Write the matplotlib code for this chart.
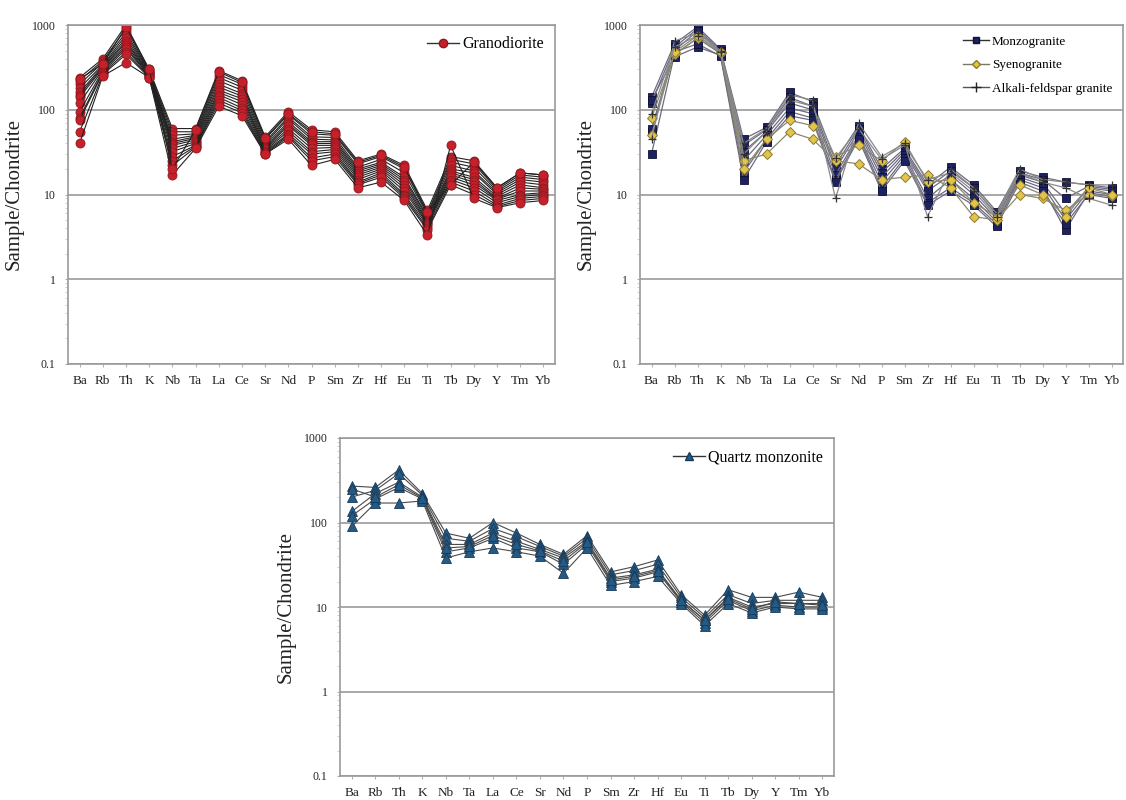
import matplotlib
matplotlib.use("Agg")
import matplotlib.pyplot as plt
from matplotlib.lines import Line2D

plt.rcParams['font.family'] = ['Liberation Serif', 'DejaVu Serif']

elements = ["Ba", "Rb", "Th", "K", "Nb", "Ta", "La", "Ce", "Sr", "Nd", "P",
            "Sm", "Zr", "Hf", "Eu", "Ti", "Tb", "Dy", "Y", "Tm", "Yb"]

# Chondrite-normalised concentrations, one list per sample
granodiorite = [
    [240, 400, 1000, 300, 60, 60, 290, 220, 48, 95, 58, 55, 25, 30, 22, 6.5, 28, 25, 12, 18, 17],
    [220, 380, 900, 290, 55, 55, 260, 200, 45, 88, 52, 50, 23, 28, 20, 6.0, 26, 23, 11.5, 17, 16],
    [200, 360, 820, 285, 50, 52, 240, 185, 42, 82, 48, 47, 21, 26, 18, 5.8, 24, 21, 11, 16, 15],
    [180, 340, 760, 280, 45, 50, 220, 170, 40, 78, 45, 44, 20, 24, 16, 5.5, 22, 19, 10.5, 15, 14],
    [160, 330, 700, 275, 42, 48, 200, 155, 38, 72, 42, 42, 19, 23, 15, 5.3, 20, 18, 10, 14, 13],
    [150, 320, 650, 270, 40, 46, 185, 145, 36, 68, 40, 40, 18, 22, 14, 5.0, 19, 16, 9.5, 13, 12],
    [140, 310, 620, 265, 38, 44, 170, 135, 35, 65, 38, 38, 17, 21, 13, 4.8, 18, 15, 9.0, 12, 11.5],
    [120, 300, 580, 260, 35, 42, 160, 125, 34, 60, 35, 36, 16, 20, 12, 4.6, 17, 14, 8.8, 11, 11],
    [95, 290, 550, 255, 32, 40, 150, 115, 33, 56, 32, 34, 15, 19, 11, 4.5, 16, 13, 8.5, 10, 10.5],
    [80, 280, 520, 250, 28, 38, 140, 105, 32, 52, 30, 32, 14, 18, 10, 4.3, 15, 12, 8.0, 9.5, 10],
    [75, 270, 480, 245, 25, 37, 130, 98, 31, 50, 27, 30, 13.5, 17, 9.5, 4.0, 14, 11, 7.5, 9, 9.5],
    [55, 260, 450, 240, 22, 36, 120, 92, 30, 48, 25, 28, 13, 16, 9, 3.8, 13, 10, 7.2, 8.5, 9],
    [40, 250, 360, 240, 17, 35, 110, 85, 30, 45, 22, 26, 12, 14, 8.5, 3.3, 38, 9, 7, 8, 8.5],
    [230, 350, 950, 300, 20, 58, 280, 210, 46, 90, 55, 52, 24, 29, 21, 6.2, 13, 24, 12, 18, 17],
]

monzogranite = [
    [140, 600, 950, 520, 45, 62, 160, 125, 25, 65, 20, 35, 13, 21, 13, 6.3, 19, 16, 14, 13, 12],
    [120, 550, 900, 500, 38, 58, 140, 110, 22, 60, 18, 33, 12, 19, 12, 5.8, 18, 15, 9, 12.5, 11.5],
    [55, 500, 850, 480, 32, 55, 120, 100, 20, 55, 16, 31, 11, 17, 10, 5.2, 17, 14, 6, 12, 11],
    [30, 450, 700, 460, 25, 50, 105, 90, 17, 50, 14, 29, 9, 15, 9, 4.8, 16, 13, 5, 11, 10],
    [130, 420, 550, 440, 18, 45, 95, 80, 15, 48, 12, 27, 8, 12, 8, 4.5, 15, 12, 3.8, 10.5, 9.5],
    [60, 480, 600, 430, 15, 42, 85, 75, 14, 45, 11, 25, 7.5, 11, 7.5, 4.2, 14, 11, 4.5, 10, 9],
]

syenogranite = [
    [80, 450, 700, 470, 25, 30, 55, 45, 25, 23, 15, 16, 17, 12, 5.5, 5.0, 10, 9, 6.5, 10, 9.5],
    [50, 480, 750, 480, 20, 45, 75, 65, 28, 38, 25, 42, 14, 15, 8, 5.5, 13, 10, 5.5, 12, 10],
]

alkali_feldspar = [
    [45, 650, 800, 500, 40, 60, 150, 130, 9, 70, 28, 40, 5.5, 20, 12, 6, 20, 15, 14, 13, 13],
    [90, 550, 750, 480, 30, 55, 130, 110, 27, 60, 26, 38, 15, 18, 11, 5.5, 18, 14, 12, 9, 7.5],
]

quartz_monzonite = [
    [270, 260, 420, 220, 75, 65, 100, 75, 55, 42, 70, 26, 30, 36, 14, 8, 16, 13, 13, 15, 13],
    [200, 240, 380, 210, 65, 60, 85, 68, 52, 40, 65, 24, 27, 32, 13, 7.5, 14, 11, 12, 12, 12],
    [135, 220, 300, 200, 55, 55, 75, 60, 48, 38, 60, 22, 24, 28, 12, 7, 13, 10, 11, 11, 11],
    [120, 190, 260, 190, 45, 50, 65, 50, 45, 32, 55, 20, 22, 26, 11.5, 6.5, 12, 9, 10.5, 10, 10],
    [90, 170, 170, 180, 38, 45, 50, 45, 40, 25, 50, 18, 20, 23, 11, 6, 11, 8.5, 10, 9.5, 9.5],
    [250, 200, 280, 195, 50, 52, 70, 55, 46, 35, 58, 21, 23, 27, 12, 7, 12.5, 9.5, 11.5, 11, 10.5],
]

x = list(range(len(elements)))
W, H = 1126, 800
fig = plt.figure(figsize=(W / 100, H / 100), dpi=100)


def make_axes(left, right, top, bottom):
    ax = fig.add_axes([left / W, 1 - bottom / H, (right - left) / W, (bottom - top) / H])
    ax.set_yscale("log")
    ax.set_ylim(0.1, 1000)
    ax.set_xlim(-0.5, len(elements) - 0.5)
    ax.set_yticks([0.1, 1, 10, 100, 1000])
    ax.set_yticklabels(["0.1", "1", "10", "100", "1000"], fontsize=8.5, color="#222222")
    ax.set_xticks(x)
    ax.set_xticklabels(elements, fontsize=9.5, color="#222222")
    ax.grid(axis="y", which="major", color="#9a9a9a", lw=1.2)
    ax.set_axisbelow(True)
    for s in ax.spines.values():
        s.set_color("#9a9a9a")
        s.set_linewidth(1.2)
    ax.tick_params(axis="x", which="major", length=2, color="#b0b0b0", pad=6)
    ax.tick_params(axis="y", which="minor", length=2, color="#c8c8c8")
    ax.tick_params(axis="y", which="major", length=2, color="#b0b0b0", pad=7)
    ax.set_ylabel("Sample/Chondrite", fontsize=15, labelpad=6, color="#222222")
    return ax


# Granodiorite
ax1 = make_axes(68, 555, 25, 364)
for s in granodiorite:
    ax1.plot(x, s, color="#222222", lw=0.8, marker="o", ms=6.5,
             mfc="#c8202a", mec="#8a1a20", mew=0.6)
h1 = Line2D([], [], color="#333333", lw=1, marker="o", ms=6, mfc="#c8202a", mec="#8a1a20")
ax1.legend([h1], ["Granodiorite"], loc="upper right", frameon=False, fontsize=11.5,
           handlelength=2.0, handletextpad=0.2, borderaxespad=0.3)

# Granites
ax2 = make_axes(640, 1123, 25, 364)
for s in monzogranite:
    ax2.plot(x, s, color="#6e6a82", lw=0.9, marker="s", ms=6,
             mfc="#1c2160", mec="#101030", mew=0.6)
for s in syenogranite:
    ax2.plot(x, s, color="#8a8a70", lw=0.9, marker="D", ms=5,
             mfc="#e3c44a", mec="#8c7a30", mew=0.7)
for s in alkali_feldspar:
    ax2.plot(x, s, color="#8a8a8a", lw=0.9, marker="+", ms=6,
             mec="#333333", mew=0.9)
h2 = [Line2D([], [], color="#333333", lw=1, marker="s", ms=5, mfc="#1c2160", mec="#101030"),
      Line2D([], [], color="#777766", lw=1, marker="D", ms=4.5, mfc="#e3c44a", mec="#8c7a30"),
      Line2D([], [], color="#555555", lw=1, marker="+", ms=7, mec="#222222")]
ax2.legend(h2, ["Monzogranite", "Syenogranite", "Alkali-feldspar granite"],
           loc="upper right", frameon=False, fontsize=9.5, handlelength=2.0,
           handletextpad=0.2, labelspacing=0.85, borderaxespad=0.4)

# Quartz monzonite
ax3 = make_axes(340, 834, 438, 776)
for s in quartz_monzonite:
    ax3.plot(x, s, color="#4a4a4a", lw=0.8, marker="^", ms=6.5,
             mfc="#255a85", mec="#163a5a", mew=0.6)
h3 = Line2D([], [], color="#333333", lw=1, marker="^", ms=5.5, mfc="#255a85", mec="#163a5a")
ax3.legend([h3], ["Quartz monzonite"], loc="upper right", frameon=False, fontsize=11.5,
           handlelength=2.0, handletextpad=0.2, borderaxespad=0.3)

fig.savefig("out.png", dpi=100)
